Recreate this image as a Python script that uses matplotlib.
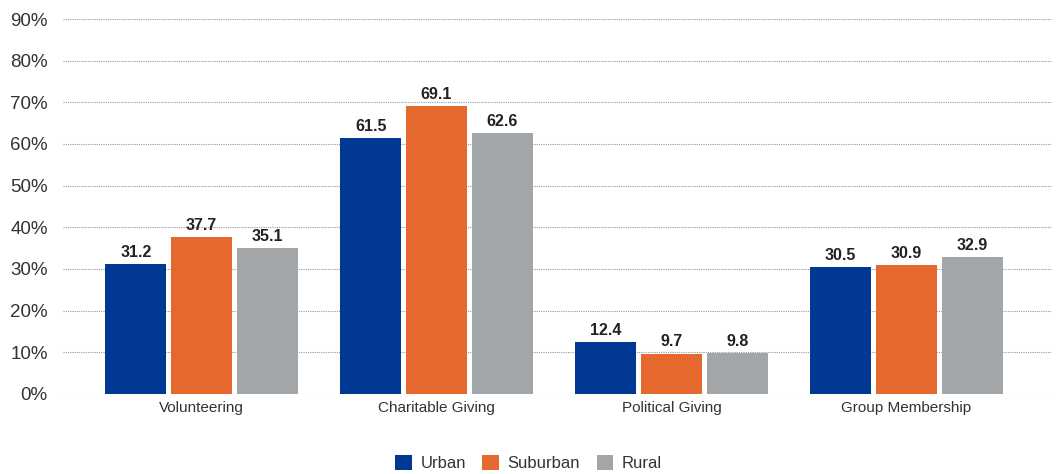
import matplotlib
matplotlib.use("Agg")
import matplotlib.pyplot as plt
import numpy as np

categories = ["Volunteering", "Charitable Giving", "Political Giving", "Group Membership"]
series = ["Urban", "Suburban", "Rural"]
urban = [31.2, 61.5, 12.4, 30.5]
suburban = [37.7, 69.1, 9.7, 30.9]
rural = [35.1, 62.6, 9.8, 32.9]
colors = ["#003893", "#E5682E", "#A3A6A9"]
yticks = [0, 10, 20, 30, 40, 50, 60, 70, 80, 90]

plt.rcParams['font.family'] = ['Liberation Sans', 'DejaVu Sans']

fig = plt.figure(figsize=(10.57, 4.74), dpi=100)
ax = fig.add_axes([63/1057, 1-394/474, (1052-63)/1057, (394-19)/474])

x = np.arange(len(categories))
w = 0.26
step = 0.28
for i, (vals, name, c) in enumerate(zip([urban, suburban, rural], series, colors)):
    pos = x + (i-1)*step
    bars = ax.bar(pos, vals, width=w, color=c, label=name, zorder=3)
    for b, v in zip(bars, vals):
        ax.text(b.get_x()+b.get_width()/2, v+1.0, f"{v:.1f}", ha="center", va="bottom",
                fontsize=11.5, fontweight="bold", color="#222222", zorder=4)

ax.set_xlim(-0.59, 3.62)
ax.set_ylim(0, 90)
ax.set_yticks(yticks)
ax.set_yticklabels([f"{t}%" for t in yticks], fontsize=13.5, color="#333333")
ax.set_xticks(x)
ax.set_xticklabels(categories, fontsize=11, color="#333333")
ax.tick_params(axis='both', length=0)
ax.tick_params(axis='y', pad=11)
ax.tick_params(axis='x', pad=5)
for s in ax.spines.values():
    s.set_visible(False)
ax.yaxis.grid(True, linestyle=(0, (1, 1)), color="#999999", linewidth=0.8, zorder=0)
ax.set_axisbelow(True)

leg = fig.legend(loc="lower center", bbox_to_anchor=(0.5, -0.025), ncol=3, frameon=False,
                 fontsize=12, handlelength=1.0, handleheight=1.0, handletextpad=0.5,
                 columnspacing=1.0)
for t in leg.get_texts():
    t.set_color("#333333")

fig.savefig("out.png", dpi=100)
